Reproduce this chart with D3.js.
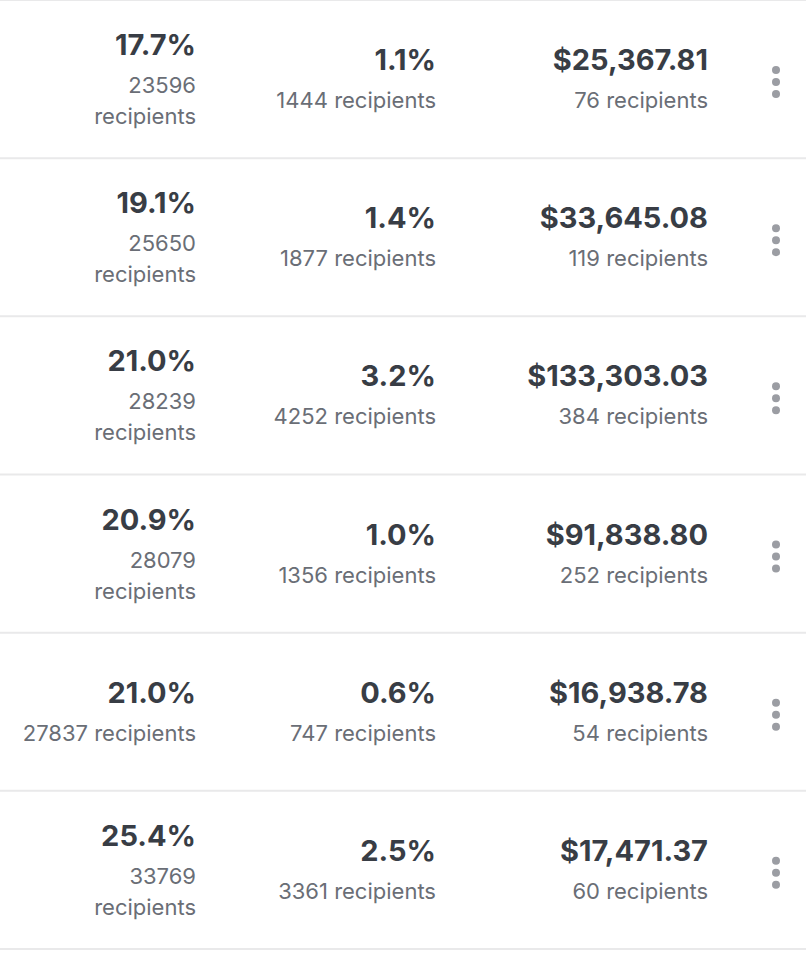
<!DOCTYPE html>
<html>
<head>
<meta charset="utf-8">
<script src="https://cdn.jsdelivr.net/npm/d3@7"></script>
<style>
  html, body { margin: 0; padding: 0; background: #fff; }
  svg { display: block; font-family: Inter, "Open Sans", sans-serif; }
</style>
</head>
<body>
<div id="table"></div>
<script>
// Values per row (top to bottom)
const openRate = [17.7, 19.1, 21.0, 20.9, 21.0, 25.4];
const openCount = [23596, 25650, 28239, 28079, 27837, 33769];
const clickRate = [1.1, 1.4, 3.2, 1.0, 0.6, 2.5];
const clickCount = [1444, 1877, 4252, 1356, 747, 3361];
const revenue = [25367.81, 33645.08, 133303.03, 91838.80, 16938.78, 17471.37];
const orderCount = [76, 119, 384, 252, 54, 60];

// rows whose first column count wraps onto two lines
const wrappedRows = new Set([0, 1, 2, 3, 5]);

const width = 806;
const height = 954;

const pct = d => d3.format('.1f')(d) + '%';
const money = d3.format('$,.2f');

const rows = d3.range(openRate.length).map(i => ({
    i: i,
    open: pct(openRate[i]),
    openSub: openCount[i] + ' recipients',
    click: pct(clickRate[i]),
    clickSub: clickCount[i] + ' recipients',
    revenue: money(revenue[i]),
    revenueSub: orderCount[i] + ' recipients'
}));

const y = d3.scaleBand()
    .domain(rows.map(d => d.i))
    .range([0, 949]);

const x = d3.scaleOrdinal()
    .domain(['open', 'click', 'revenue', 'menu'])
    .range([196, 436, 708, 776]);

const svg = d3.select('#table')
    .append('svg')
    .attr('width', width)
    .attr('height', height);

// Separators
svg.selectAll('line.sep')
    .data(rows.map(d => y(d.i)).concat([y.range()[1]]))
    .join('line')
    .attr('class', 'sep')
    .attr('x1', 0)
    .attr('x2', width)
    .attr('y1', d => d)
    .attr('y2', d => d)
    .attr('stroke', '#e9e9ea')
    .attr('stroke-width', 2);

const row = svg.selectAll('g.row')
    .data(rows)
    .join('g')
    .attr('class', 'row')
    .attr('transform', d => `translate(0,${y(d.i)})`);

const mainColor = '#383d45';
const subColor = '#6a6e76';

function mainText(sel, col, yy, fn) {
    sel.append('text')
        .attr('x', x(col))
        .attr('y', yy)
        .attr('text-anchor', 'end')
        .attr('fill', mainColor)
        .style('font-size', '29px')
        .style('font-weight', 650)
        .text(fn);
}

function subText(sel, col, yy, fn) {
    sel.append('text')
        .attr('x', x(col))
        .attr('y', yy)
        .attr('text-anchor', 'end')
        .attr('fill', subColor)
        .style('font-size', '22px')
        .text(fn);
}

// First column: open rate
row.each(function(d) {
    const g = d3.select(this);
    if (wrappedRows.has(d.i)) {
        mainText(g, 'open', 55, d.open);
        subText(g, 'open', 93, openCount[d.i]);
        subText(g, 'open', 124, 'recipients');
    } else {
        mainText(g, 'open', 70, d.open);
        subText(g, 'open', 108, d.openSub);
    }
});

// Click rate
mainText(row, 'click', 70, d => d.click);
subText(row, 'click', 108, d => d.clickSub);

// Revenue
mainText(row, 'revenue', 70, d => d.revenue);
subText(row, 'revenue', 108, d => d.revenueSub);

// Menu dots
row.selectAll('circle')
    .data([-12, 0, 12])
    .join('circle')
    .attr('cx', x('menu'))
    .attr('cy', d => 82 + d)
    .attr('r', 4)
    .attr('fill', '#9b9da3');
</script>
</body>
</html>
